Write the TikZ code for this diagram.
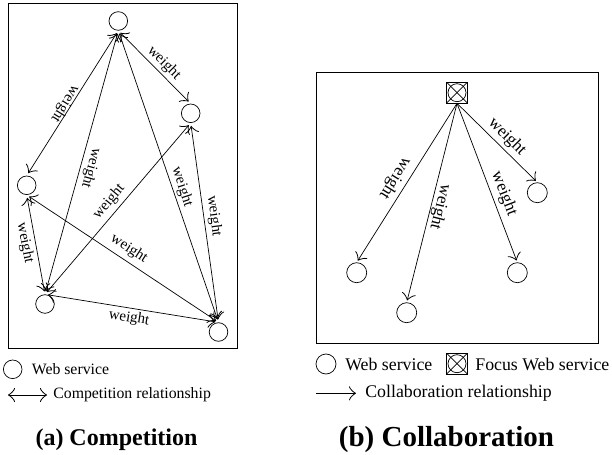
\documentclass[tikz,border=0pt]{standalone}
\usepackage{fontspec}
\setmainfont{Liberation Serif}
\usetikzlibrary{arrows.meta}
\begin{document}
\begin{tikzpicture}[x=1bp,y=-1bp,line width=0.7bp,
  ws/.style={circle,draw,minimum size=18.6bp,inner sep=0pt},
  wsr/.style={circle,draw,minimum size=20bp,inner sep=0pt},
  focus/.style={rectangle,draw,minimum size=20.6bp,inner sep=0pt,
    path picture={
      \draw[line width=0.7bp] (path picture bounding box.center) circle[radius=9bp];
      \draw[line width=0.7bp] (path picture bounding box.south west) -- (path picture bounding box.north east);
      \draw[line width=0.7bp] (path picture bounding box.north west) -- (path picture bounding box.south east);
    }},
  biarrow/.style={arrows={Classical TikZ Rightarrow[length=7bp,width=14bp,line width=0.8bp]-Classical TikZ Rightarrow[length=7bp,width=14bp,line width=0.8bp]},shorten <=3bp,shorten >=3bp},
  onearrow/.style={arrows={-Classical TikZ Rightarrow[length=7bp,width=14bp,line width=0.8bp]},shorten >=2bp},
  lbl/.style={inner sep=0pt,font=\fontsize{15bp}{17bp}\selectfont},
  lblr/.style={inner sep=0pt,font=\fontsize{17bp}{19bp}\selectfont},
  leg/.style={inner sep=0pt,anchor=west,font=\fontsize{15.8bp}{18bp}\selectfont},
  legr/.style={inner sep=0pt,anchor=west,font=\fontsize{17.8bp}{20bp}\selectfont},
  ttl/.style={inner sep=0pt,font=\fontsize{24bp}{28bp}\selectfont\bfseries},
  ttlr/.style={inner sep=0pt,font=\fontsize{29bp}{33bp}\selectfont\bfseries},
  frame/.style={draw}
]
\useasboundingbox (0,0) rectangle (612,455);

% ---------- (a) Competition ----------
\node[frame,minimum width=229bp,minimum height=345bp,inner sep=0pt] (boxa) at (122.5,175.5) {};
\node[ws] (A) at (118.3,21) {};
\node[ws] (B) at (190.7,113.3) {};
\node[ws] (C) at (26.7,185.3) {};
\node[ws] (D) at (45,304) {};
\node[ws] (E) at (218.5,332) {};

\draw[biarrow] (A.south) -- (B.north);
\draw[biarrow] (A.south) -- (C.north);
\draw[biarrow] (A.south) -- (D.north);
\draw[biarrow] (A.south) -- (E.north);
\draw[biarrow] (B.south) -- (D.north);
\draw[biarrow] (B.south) -- (E.north);
\draw[biarrow] (C.south) -- (D.north);
\draw[biarrow] (C.south) -- (E.north);
\draw[biarrow] (D.north) -- (E.north);

\node[lbl,rotate=-45] (lAB) at (164,63) {weight};
\node[lbl,rotate=238] (lAC) at (65,104) {weight};
\node[lbl,rotate=254.6] (lAD) at (91,168) {weight};
\node[lbl,rotate=-72] (lAE) at (182,187) {weight};
\node[lbl,rotate=50] (lBD) at (109,202) {weight};
\node[lbl,rotate=-83] (lBE) at (214,216) {weight};
\node[lbl,rotate=-79] (lCD) at (25,243) {weight};
\node[lbl,rotate=-33] (lCE) at (129,249) {weight};
\node[lbl,rotate=-9] (lDE) at (129,318) {weight};

% legend (a)
\node[ws] (legA) at (12.7,369.3) {};
\node[leg] (legAt) at (31.5,369.3) {Web service};
\coordinate (la1) at (8,395);
\coordinate (la2) at (47,395);
\draw[arrows={Classical TikZ Rightarrow[length=7bp,width=14bp,line width=0.8bp]-Classical TikZ Rightarrow[length=7bp,width=14bp,line width=0.8bp]}] (la1) -- (la2);
\node[leg] (legAr) at (53,395) {Competition relationship};
\node[ttl] (ta) at (116.5,440) {(a) Competition};

% ---------- (b) Collaboration ----------
\node[frame,minimum width=282bp,minimum height=271bp,inner sep=0pt] (boxb) at (457,207.5) {};
\node[focus] (F) at (457,92.7) {};
\node[wsr] (R1) at (537.3,192.7) {};
\node[wsr] (R2) at (356.7,272.7) {};
\node[wsr] (R3) at (406.7,312.7) {};
\node[wsr] (R4) at (517.3,272.7) {};

\draw[onearrow] (F.south) -- (R1.north);
\draw[onearrow] (F.south) -- (R2.north);
\draw[onearrow] (F.south) -- (R3.north);
\draw[onearrow] (F.south) -- (R4.north);

\node[lblr,rotate=-45] (l1) at (507,137) {weight};
\node[lblr,rotate=238] (l2) at (395,178) {weight};
\node[lblr,rotate=256] (l3) at (440,207) {weight};
\node[lblr,rotate=-69] (l4) at (504,194) {weight};

% legend (b)
\node[wsr] (legB) at (326,364) {};
\node[legr] (legBt) at (345,364) {Web service};
\node[focus] (legF) at (457,363.7) {};
\node[legr] (legFt) at (475,364) {Focus Web service};
\coordinate (lb1) at (316,393.3);
\coordinate (lb2) at (356,393.3);
\draw[arrows={-Classical TikZ Rightarrow[length=7bp,width=14bp,line width=0.8bp]}] (lb1) -- (lb2);
\node[legr] (legBr) at (365,393.3) {Collaboration relationship};
\node[ttlr] (tb) at (446.5,440) {(b) Collaboration};
\end{tikzpicture}
\end{document}
